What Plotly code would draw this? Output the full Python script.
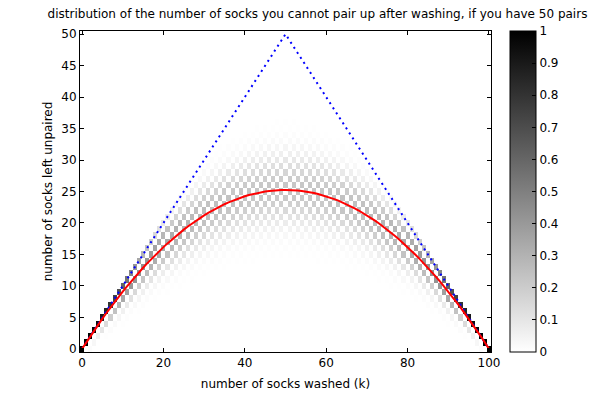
import math
import plotly.graph_objects as go

# ---- data ----
N_PAIRS = 50
k_washed = list(range(0, 2 * N_PAIRS + 1))      # number of socks washed
u_unpaired = list(range(0, N_PAIRS + 1))         # number of socks left unpaired
x_ticks = [0, 20, 40, 60, 80, 100]
y_ticks = [0, 5, 10, 15, 20, 25, 30, 35, 40, 45, 50]
c_ticks = [0, 0.1, 0.2, 0.3, 0.4, 0.5, 0.6, 0.7, 0.8, 0.9, 1]

# exact distribution P(u unpaired | k washed) for N_PAIRS pairs
total = 2 * N_PAIRS
z = []
for u in u_unpaired:
    row = []
    for k in k_washed:
        if u > k or (k - u) % 2 or (k - u) // 2 > N_PAIRS - u:
            row.append(0.0)
        else:
            p = (k - u) // 2
            row.append(math.comb(N_PAIRS, u) * math.comb(N_PAIRS - u, p) * 2 ** u / math.comb(total, k))
    z.append(row)

mean_unpaired = [k - k * (k - 1) / (total - 1) for k in k_washed]
max_unpaired = [min(k, total - k) for k in k_washed]

# ---- figure ----
FONT = "DejaVu Sans, Verdana, sans-serif"
FS = 12
W, H = 605, 389          # page body has an 8px margin
L, T, PW, PH = 72, 23, 411, 321
fig = go.Figure()
fig.add_trace(go.Heatmap(
    x=k_washed, y=u_unpaired, z=z, zmin=0, zmax=1, zsmooth=False,
    colorscale=[[0, "#ffffff"], [1, "#000000"]],
    colorbar=dict(
        thickness=26, len=1, lenmode="fraction", y=0.5, yanchor="middle",
        x=(510 - 80) / PW, xanchor="left", xpad=0, ypad=0,
        outlinecolor="black", outlinewidth=1,
        ticks="inside", ticklen=4, tickcolor="black",
        tickvals=c_ticks, ticktext=[f"{v:g}" for v in c_ticks],
        tickfont=dict(family=FONT, size=FS, color="black"),
    ),
    hoverinfo="skip",
))
fig.add_trace(go.Scatter(
    x=k_washed, y=max_unpaired, mode="lines",
    line=dict(color="#0000ff", width=2, dash="2px,4px"), showlegend=False,
))
fig.add_trace(go.Scatter(
    x=k_washed, y=mean_unpaired, mode="lines",
    line=dict(color="#ff0000", width=2), showlegend=False,
))

axis_common = dict(
    showline=True, linecolor="black", linewidth=1, mirror="ticks",
    ticks="inside", ticklen=4, tickcolor="black",
    showgrid=False, zeroline=False, automargin=False,
    tickfont=dict(family=FONT, size=FS, color="black"),
)
fig.update_xaxes(range=[-0.5, 100.5], tickvals=x_ticks,
                 title=dict(text="number of socks washed (k)", standoff=10,
                            font=dict(family=FONT, size=FS, color="black")),
                 **axis_common)
fig.update_yaxes(range=[-0.5, 50.5], tickvals=y_ticks,
                 title=dict(text="number of socks left unpaired", standoff=6,
                            font=dict(family=FONT, size=FS, color="black")),
                 **axis_common)

fig.update_layout(
    width=W, height=H,
    margin=dict(l=L, r=W - L - PW, t=T, b=H - T - PH, autoexpand=False),
    paper_bgcolor="white", plot_bgcolor="white",
    title=dict(text="distribution of the number of socks you cannot pair up after washing, if you have 50 pairs",
               x=309.5 / W, xanchor="center", xref="container", y=1 - 6 / H, yanchor="middle",
               yref="container", automargin=False,
               font=dict(family=FONT, size=FS, color="black")),
    showlegend=False,
)

fig.write_html("out.html")
